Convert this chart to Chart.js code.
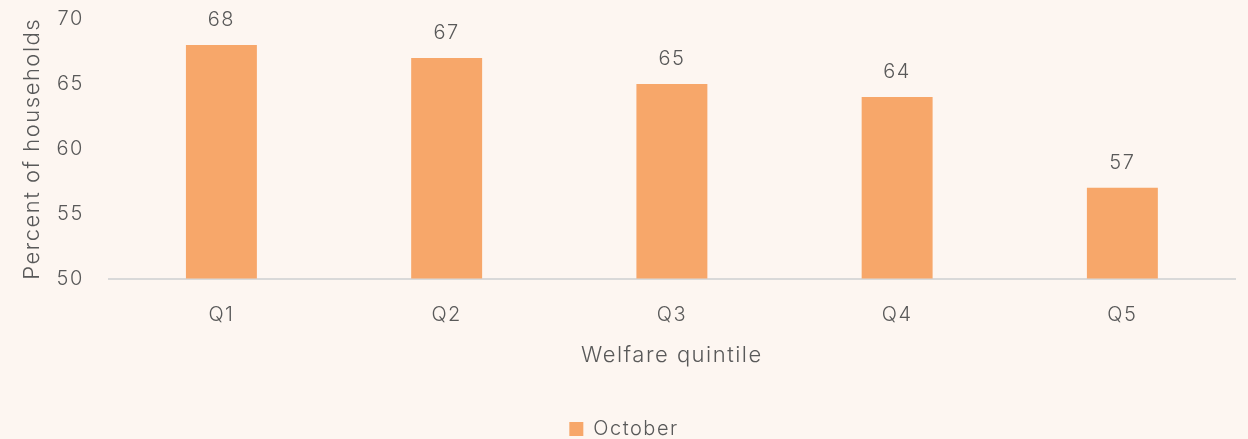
<!DOCTYPE html>
<html>
<head>
<meta charset="utf-8">
<script src="https://cdn.jsdelivr.net/npm/chart.js@4.4.1/dist/chart.umd.min.js"></script>
<style>
    html, body { margin: 0; padding: 0; background: #fdf6f1; }
    #wrap { width: 1248px; height: 439px; position: relative; }
</style>
</head>
<body>
<div id="wrap"><canvas id="chart"></canvas></div>
<script>
const quintiles = ['Q1', 'Q2', 'Q3', 'Q4', 'Q5'];
const october = [68, 67, 65, 64, 57];
const yTicks = [50, 55, 60, 65, 70];

const textColor = '#595959';
const barColor = '#f7a76a';
const fontFamily = 'Inter, "Open Sans", sans-serif';

// espaçamento entre letras (fonte original é mais larga)
const spacing = {
    id: 'spacing',
    beforeUpdate(chart) { chart.ctx.letterSpacing = '1.5px'; },
    beforeDraw(chart) { chart.ctx.letterSpacing = '1.5px'; }
};

// valores acima das barras
const valueLabels = {
    id: 'valueLabels',
    afterDatasetsDraw(chart) {
        const ctx = chart.ctx;
        const meta = chart.getDatasetMeta(0);
        ctx.save();
        ctx.fillStyle = textColor;
        ctx.font = '300 20px ' + fontFamily;
        ctx.textAlign = 'center';
        ctx.textBaseline = 'bottom';
        meta.data.forEach((bar, i) => {
            ctx.fillText(october[i], bar.x, bar.y - 15);
        });
        ctx.restore();
    }
};

new Chart(document.getElementById('chart'), {
    type: 'bar',
    data: {
        labels: quintiles,
        datasets: [{
            label: 'October',
            data: october,
            backgroundColor: barColor,
            borderWidth: 0,
            barPercentage: 0.63,
            categoryPercentage: 0.5
        }]
    },
    options: {
        responsive: true,
        maintainAspectRatio: false,
        animation: false,
        layout: { padding: { top: 19, right: 13, left: 13, bottom: -10 } },
        plugins: {
            legend: {
                position: 'bottom',
                labels: {
                    color: textColor,
                    font: { family: fontFamily, size: 20, weight: 300 },
                    boxWidth: 14,
                    boxHeight: 14,
                    padding: 4
                }
            },
            tooltip: { enabled: false }
        },
        scales: {
            x: {
                grid: { display: false, drawTicks: false },
                border: { display: true, color: '#d9d9d9', width: 2 },
                ticks: { color: textColor, font: { family: fontFamily, size: 20, weight: 300 }, padding: 24 },
                title: {
                    display: true,
                    text: 'Welfare quintile',
                    color: textColor,
                    font: { family: fontFamily, size: 22, weight: 300 },
                    padding: { top: -8, bottom: 46 }
                }
            },
            y: {
                min: 50,
                max: 70,
                afterBuildTicks(axis) { axis.ticks = yTicks.map(v => ({ value: v })); },
                afterFit(axis) { axis.paddingTop = 0; },
                grid: { display: false, drawTicks: false },
                border: { display: false },
                ticks: { color: textColor, font: { family: fontFamily, size: 20, weight: 300 }, padding: 25 },
                title: {
                    display: true,
                    text: 'Percent of households',
                    color: textColor,
                    font: { family: fontFamily, size: 22, weight: 300 },
                    padding: { top: 6, bottom: -14 }
                }
            }
        }
    },
    plugins: [spacing, valueLabels]
});
</script>
</body>
</html>
